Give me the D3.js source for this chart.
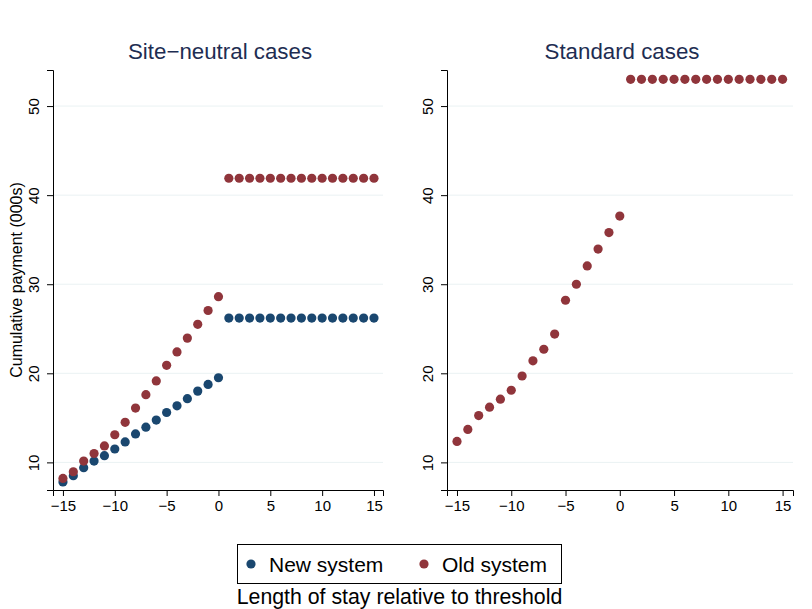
<!DOCTYPE html>
<html>
<head>
<meta charset="utf-8">
<script src="https://cdn.jsdelivr.net/npm/d3@7"></script>
<style>
  body { margin: 0; background: #fff; }
  svg { display: block; font-family: "Liberation Sans", Arial, sans-serif; }
</style>
</head>
<body>
<svg width="812" height="609"></svg>
<script>
// lengths of stay relative to threshold
const days = d3.range(-15, 16);

// site-neutral cases (000s)
const siteNew = [7.8, 8.5, 9.4, 10.15, 10.75, 11.5, 12.3, 13.2, 13.95, 14.75, 15.6, 16.35, 17.15, 18.0, 18.75, 19.5,
  26.2, 26.2, 26.2, 26.2, 26.2, 26.2, 26.2, 26.2, 26.2, 26.2, 26.2, 26.2, 26.2, 26.2, 26.2];
const siteOld = [8.2, 8.95, 10.15, 11.0, 11.85, 13.1, 14.5, 16.1, 17.6, 19.15, 20.9, 22.4, 23.95, 25.5, 27.05, 28.6,
  41.9, 41.9, 41.9, 41.9, 41.9, 41.9, 41.9, 41.9, 41.9, 41.9, 41.9, 41.9, 41.9, 41.9, 41.9];

// standard cases (000s)
const stdOld = [12.35, 13.7, 15.25, 16.2, 17.1, 18.1, 19.7, 21.4, 22.7, 24.4, 28.2, 30.0, 32.05, 33.95, 35.8, 37.65,
  53.0, 53.0, 53.0, 53.0, 53.0, 53.0, 53.0, 53.0, 53.0, 53.0, 53.0, 53.0, 53.0, 53.0, 53.0];

const xTicks = [-15, -10, -5, 0, 5, 10, 15];
const yTicks = [10, 20, 30, 40, 50];

const NAVY = "#1a476f", MAROON = "#90353b";

const svg = d3.select("svg");

const y = d3.scaleLinear().domain([6.9, 54.05]).range([490, 70]);

function panel(title, x0, x1, domain, series, ylabel) {
  const x = d3.scaleLinear().domain(domain).range([x0, x1]);
  const g = svg.append("g");

  g.selectAll("line.grid").data(yTicks).join("line")
    .attr("x1", x0).attr("x2", x1)
    .attr("y1", d => y(d)).attr("y2", d => y(d))
    .attr("stroke", "#eaf2f3").attr("stroke-width", 1);

  const ax = g.append("g").attr("transform", `translate(0,${y.range()[0]})`)
    .call(d3.axisBottom(x).tickValues(xTicks).tickSize(6).tickPadding(4)
      .tickFormat(d => d < 0 ? "\u2212" + Math.abs(d) : d));
  ax.selectAll("text").attr("font-size", 15).attr("fill", "#000");

  const ay = g.append("g").attr("transform", `translate(${x0},0)`)
    .call(d3.axisLeft(y).tickValues(yTicks).tickSize(6));
  ay.selectAll("text").attr("font-size", 15).attr("fill", "#000")
    .attr("transform", "translate(-14,0) rotate(-90)")
    .attr("x", 0).attr("y", 0).attr("dy", 0)
    .attr("text-anchor", "middle");
  [ax, ay].forEach(a => {
    a.select(".domain").attr("stroke", "#000");
    a.selectAll(".tick line").attr("stroke", "#000");
  });

  series.forEach(s => {
    g.append("g").selectAll("circle").data(s.values).join("circle")
      .attr("cx", (d, i) => x(days[i]))
      .attr("cy", d => y(d))
      .attr("r", 4.6)
      .attr("fill", s.color);
  });

  g.append("text").attr("x", (x0 + x1) / 2 + 2).attr("y", 59)
    .attr("text-anchor", "middle").attr("font-size", 22.3).attr("fill", "#1e2d52")
    .text(title);

  if (ylabel) {
    g.append("text").attr("transform", "translate(22,280) rotate(-90)")
      .attr("text-anchor", "middle").attr("font-size", 16).attr("fill", "#000")
      .text(ylabel);
  }
}

panel("Site\u2212neutral cases", 53, 383, [-15.96, 15.87],
  [{ values: siteNew, color: NAVY }, { values: siteOld, color: MAROON }],
  "Cumulative payment (000s)");
panel("Standard cases", 447, 793, [-15.92, 15.96],
  [{ values: stdOld, color: MAROON }], null);

// legend
const legendItems = [{ label: "New system", color: NAVY }, { label: "Old system", color: MAROON }];
const lg = svg.append("g");
lg.append("rect").attr("x", 237.5).attr("y", 544.5).attr("width", 324).attr("height", 39)
  .attr("fill", "#fff").attr("stroke", "#000").attr("stroke-width", 1);
const li = lg.selectAll("g.item").data(legendItems).join("g")
  .attr("transform", (d, i) => `translate(${i === 0 ? 251 : 424},564)`);
li.append("circle").attr("r", 4.6).attr("fill", d => d.color);
li.append("text").attr("x", 18).attr("y", 7.7).attr("font-size", 21).attr("fill", "#000")
  .text(d => d.label);

svg.append("text").attr("x", 399.5).attr("y", 604).attr("text-anchor", "middle")
  .attr("font-size", 21.3).attr("fill", "#000").text("Length of stay relative to threshold");
</script>
</body>
</html>
